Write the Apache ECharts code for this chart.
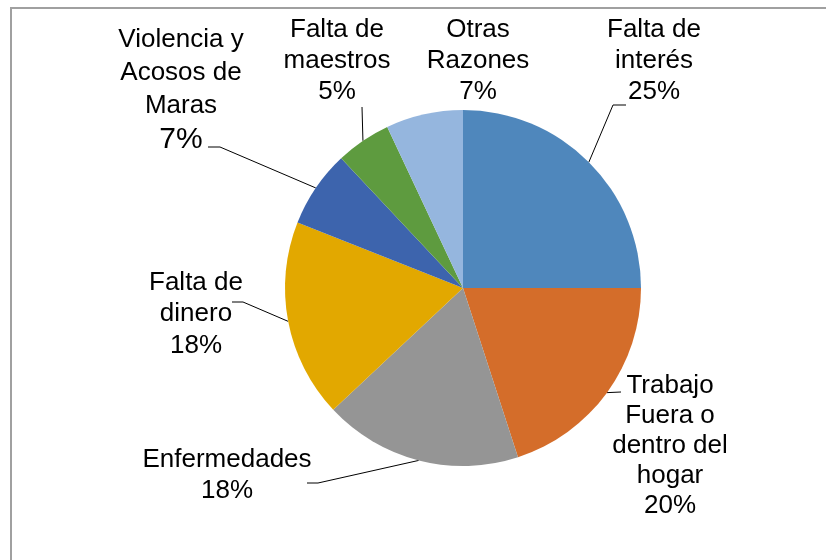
<!DOCTYPE html>
<html>
<head>
<meta charset="utf-8">
<script src="https://cdn.jsdelivr.net/npm/echarts@6/dist/echarts.min.js"></script>
<style>
  html, body { margin: 0; padding: 0; background: #ffffff; }
  #frame {
    position: absolute; left: 10px; top: 7px; width: 830px; height: 560px;
    border-top: 2px solid #a0a0a0; border-left: 2px solid #a0a0a0;
  }
  #main { position: absolute; left: 0; top: 0; width: 826px; height: 560px; }
</style>
</head>
<body>
<div id="frame"></div>
<div id="main"></div>
<script>
// reasons, clockwise from 12 o'clock
var categories = ['Falta de\ninterés', 'Trabajo\nFuera o\ndentro del\nhogar', 'Enfermedades',
                  'Falta de\ndinero', 'Violencia y\nAcosos de\nMaras', 'Falta de\nmaestros', 'Otras\nRazones'];
var values = [25, 20, 18, 18, 7, 5, 7];

var colors = ['#4f87bc', '#d46d2a', '#959595', '#e2a800', '#3d64ad', '#5e9b3f', '#95b6de'];

// where each label block sits (center x, top y) and the elbow of its leader line
var labelPos = [
    {x: 654, y: 14, line: [[613, 105], [626, 105]]},
    {x: 670, y: 371, line: [[621, 392]]},
    {x: 227, y: 444, line: [[318, 483], [307, 483]]},
    {x: 196, y: 267, line: [[243, 302], [232, 302]]},
    {x: 181, y: 23, line: [[220, 147], [208, 147]]},
    {x: 337, y: 14, line: [[362, 107]]},
    {x: 478, y: 14, line: null}
];

function drawPie() {
    var myChart = echarts.init(document.getElementById('main'));

    var data = [];
    for (var i = 0; i < values.length; i++) {
        var item = {
            value: values[i],
            name: categories[i],
            itemStyle: { color: colors[i] }
        };
        if (labelPos[i].line == null) {
            item.labelLine = { show: false };
        }
        if (i == 4) {
            item.label = { lineHeight: 33 };
        }
        if (i == 3) {
            item.label = { lineHeight: 31.5 };
        }
        if (i == 1) {
            item.label = { lineHeight: 30 };
        }
        data.push(item);
    }

    var option = {
        animation: false,
        series: [
            {
                type: 'pie',
                center: [463, 288],
                radius: 178,
                startAngle: 90,
                clockwise: true,
                avoidLabelOverlap: false,
                silent: true,
                label: {
                    show: true,
                    position: 'outside',
                    color: '#000000',
                    fontFamily: 'Liberation Sans, Arial, sans-serif',
                    fontSize: 26,
                    lineHeight: 31,
                    align: 'center',
                    formatter: function (p) {
                        if (p.dataIndex == 4) {
                            return p.name + '\n{big|' + p.value + '%}';
                        }
                        return p.name + '\n' + p.value + '%';
                    },
                    rich: {
                        big: {
                            fontFamily: 'Liberation Sans, Arial, sans-serif',
                            fontSize: 30,
                            lineHeight: 36,
                            color: '#000000'
                        }
                    }
                },
                labelLine: {
                    show: true,
                    length: 10,
                    length2: 10,
                    lineStyle: { color: '#000000', width: 1 }
                },
                labelLayout: function (params) {
                    var pos = labelPos[params.dataIndex];
                    var out = {
                        x: pos.x,
                        y: pos.y,
                        align: 'center',
                        verticalAlign: 'top'
                    };
                    if (pos.line && params.labelLinePoints) {
                        var pts = [params.labelLinePoints[0]];
                        for (var k = 0; k < pos.line.length; k++) {
                            pts.push(pos.line[k]);
                        }
                        out.labelLinePoints = pts;
                    }
                    return out;
                },
                data: data
            }
        ]
    };

    myChart.setOption(option);
}

drawPie();
</script>
</body>
</html>
